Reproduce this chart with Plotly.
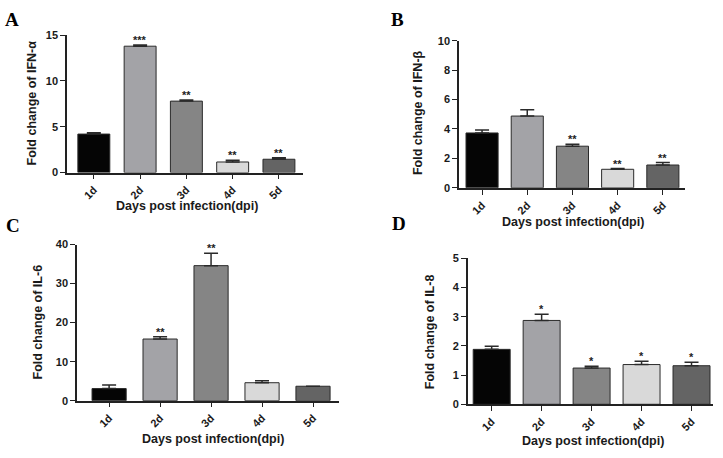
import plotly.graph_objects as go

W, H = 723, 458

days = ["1d", "2d", "3d", "4d", "5d"]
bar_colors = ["#050505", "#a3a3a7", "#858585", "#d9d9d9", "#646464"]

ifna_mean = [4.2, 13.8, 7.8, 1.15, 1.45]
ifna_err = [0.15, 0.12, 0.12, 0.2, 0.15]
ifna_stars = ["", "***", "**", "**", "**"]

ifnb_mean = [3.73, 4.88, 2.83, 1.26, 1.55]
ifnb_err = [0.2, 0.42, 0.13, 0.05, 0.17]
ifnb_stars = ["", "", "**", "**", "**"]

il6_mean = [3.1, 15.8, 34.6, 4.6, 3.7]
il6_err = [0.9, 0.6, 3.2, 0.5, 0.0]
il6_stars = ["", "**", "**", "", ""]

il8_mean = [1.88, 2.87, 1.24, 1.36, 1.32]
il8_err = [0.11, 0.21, 0.06, 0.11, 0.12]
il8_stars = ["", "*", "*", "*", "*"]

panels = [
    dict(m=ifna_mean, e=ifna_err, s=ifna_stars, yt="Fold change of IFN-α", yr=[0, 15], dt=5,
         px=(67, 303), py=(30, 171), xr=[-0.58, 4.52], bw=0.69, L="A", Lp=(12, 14),
         xtp=(187, 205), ytp=(32, 100)),
    dict(m=ifnb_mean, e=ifnb_err, s=ifnb_stars, yt="Fold change of IFN-β", yr=[0, 10], dt=2,
         px=(459, 685), py=(35.7, 186.7), xr=[-0.51, 4.49], bw=0.71, L="B", Lp=(397, 14),
         xtp=(573, 222), ytp=(418, 110)),
    dict(m=il6_mean, e=il6_err, s=il6_stars, yt="Fold change of IL-6", yr=[0, 40], dt=10,
         px=(77, 339), py=(245, 405.3), xr=[-0.63, 4.51], bw=0.67, L="C", Lp=(13, 225),
         xtp=(213, 445), ytp=(38, 325)),
    dict(m=il8_mean, e=il8_err, s=il8_stars, yt="Fold change of IL-8", yr=[0, 5], dt=1,
         px=(467.7, 713), py=(259, 409), xr=[-0.48, 4.43], bw=0.74, L="D", Lp=(399, 223),
         xtp=(593, 447), ytp=(430, 335)),
]

fig = go.Figure()
annotations = []
font_fam = "Liberation Sans, Arial, sans-serif"
tfont = dict(family=font_fam, size=11, color="#1a1a1a", weight="bold")

for i, p in enumerate(panels, start=1):
    xa = "x" if i == 1 else f"x{i}"
    ya = "y" if i == 1 else f"y{i}"
    fig.add_trace(go.Bar(
        x=days, y=p["m"], xaxis=xa, yaxis=ya, width=p["bw"],
        marker=dict(color=bar_colors, line=dict(color="#2a2a2a", width=1)),
        error_y=dict(type="data", symmetric=False, array=p["e"],
                     arrayminus=[0] * len(p["e"]), color="#2a2a2a",
                     thickness=1.5, width=7),
        showlegend=False, hoverinfo="skip",
    ))
    xd = [p["px"][0] / W, p["px"][1] / W]
    yd = [1 - p["py"][1] / H, 1 - p["py"][0] / H]
    xkey = "xaxis" if i == 1 else f"xaxis{i}"
    ykey = "yaxis" if i == 1 else f"yaxis{i}"
    fig.update_layout(**{
        xkey: dict(domain=xd, anchor=ya, range=p["xr"], type="category",
                   showline=True, linecolor="#222", linewidth=1.5,
                   ticks="outside", ticklen=5, tickcolor="#222", tickwidth=1.2,
                   tickangle=-45, showgrid=False, zeroline=False,
                   tickfont=tfont),
        ykey: dict(domain=yd, anchor=xa, range=p["yr"], dtick=p["dt"],
                   showline=True, linecolor="#222", linewidth=1.5,
                   ticks="outside", ticklen=5, tickcolor="#222", tickwidth=1.2,
                   showgrid=False, zeroline=False,
                   tickfont=tfont),
    })
    for d, m, e, s in zip(days, p["m"], p["e"], p["s"]):
        if s:
            annotations.append(dict(x=d, y=m + e, xref=xa, yref=ya, text="<b>" + s + "</b>",
                                    showarrow=False, yanchor="bottom", yshift=-3,
                                    font=dict(family=font_fam, size=11, color="#222")))
    annotations.append(dict(x=p["Lp"][0] / W, y=1 - p["Lp"][1] / H, xref="paper", yref="paper",
                            text="<b>" + p["L"] + "</b>", showarrow=False,
                            xanchor="center", yanchor="middle",
                            font=dict(family="Liberation Serif, Times New Roman, serif", size=19, color="#000")))
    annotations.append(dict(x=p["xtp"][0] / W, y=1 - p["xtp"][1] / H, xref="paper", yref="paper",
                            text="<b>Days post infection(dpi)</b>", showarrow=False,
                            xanchor="center", yanchor="middle",
                            font=dict(family=font_fam, size=12.5, color="#1a1a1a")))
    annotations.append(dict(x=p["ytp"][0] / W, y=1 - p["ytp"][1] / H, xref="paper", yref="paper",
                            text="<b>" + p["yt"] + "</b>", showarrow=False, textangle=-90,
                            xanchor="center", yanchor="middle",
                            font=dict(family=font_fam, size=12.5, color="#1a1a1a")))

fig.update_layout(
    width=W, height=H, margin=dict(l=0, r=0, t=0, b=0),
    paper_bgcolor="white", plot_bgcolor="white",
    annotations=annotations, bargap=0.3,
)

fig.write_html("out.html", config={"displayModeBar": False},
               post_script="document.body.style.margin='0';document.body.style.overflow='hidden';")
